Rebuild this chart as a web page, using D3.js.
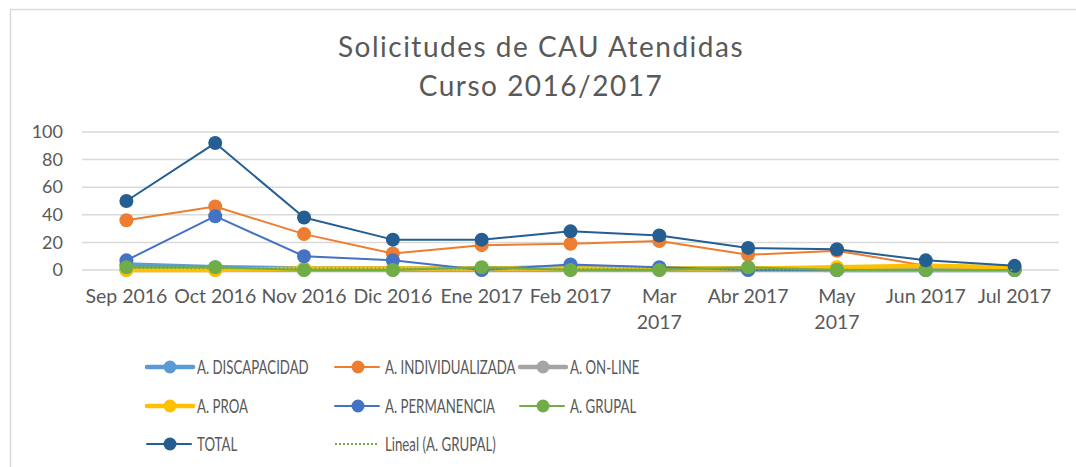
<!DOCTYPE html>
<html><head><meta charset="utf-8">
<script src="https://cdn.jsdelivr.net/npm/d3@7"></script>
<style>html,body{margin:0;padding:0;background:#fff;}svg{display:block;font-family:Lato,"Open Sans",sans-serif;}</style>
</head><body>
<svg id="c" width="1076" height="467"></svg>
<script>
const categories = ["Sep 2016","Oct 2016","Nov 2016","Dic 2016","Ene 2017","Feb 2017","Mar 2017","Abr 2017","May 2017","Jun 2017","Jul 2017"];
const yTicks = [0,20,40,60,80,100];
const titleLines = ["Solicitudes de CAU Atendidas","Curso 2016/2017"];
const discapacidad    = [4,2,1,1,1,2,1,1,0,0,0];
const individualizada = [36,46,26,12,18,19,21,11,14,3,1];
const online          = [0,0,0,0,0,0,0,0,0,0,0];
const proa            = [0,0,1,1,1,1,1,1,2,3,2];
const permanencia     = [7,39,10,7,0,4,2,0,0,0,0];
const grupal          = [2,2,0,0,2,0,0,2,0,0,0];
const total           = [50,92,38,22,22,28,25,16,15,7,3];
const seriesNames = ["A. DISCAPACIDAD","A. INDIVIDUALIZADA","A. ON-LINE","A. PROA","A. PERMANENCIA","A. GRUPAL","TOTAL"];
const trendName = "Lineal (A. GRUPAL)";

const seriesData = [discapacidad, individualizada, online, proa, permanencia, grupal, total];
const colors = ["#5B9BD5","#ED7D31","#A5A5A5","#FFC000","#4472C4","#70AD47","#255E91"];
const widths = [4.5,2,4.5,4.5,2,2,2];

const svg = d3.select("#c");
const txt = "#595959";

svg.append("rect").attr("x",10.5).attr("y",9.5).attr("width",1200).attr("height",600)
  .attr("fill","none").attr("stroke","#D9D9D9").attr("stroke-width",1.5);

svg.selectAll("text.title").data(titleLines).join("text")
  .attr("x",541).attr("y",(d,i)=>57+i*39).attr("text-anchor","middle")
  .attr("font-size",28).attr("letter-spacing","1.5px").attr("fill",txt).text(d=>d);

const x = d3.scaleBand().domain(categories).range([82,1059]);
const y = d3.scaleLinear().domain([0,100]).range([270,132]);

// gridlines
svg.append("g").selectAll("line").data(yTicks).join("line")
  .attr("x1",82).attr("x2",1059).attr("y1",d=>y(d)).attr("y2",d=>y(d))
  .attr("stroke","#D9D9D9").attr("stroke-width",1.5);

// y axis
const ya = svg.append("g").attr("transform","translate(63,0)")
  .call(d3.axisLeft(y).tickValues(yTicks).tickSize(0).tickPadding(0));
ya.select(".domain").remove();
ya.selectAll("text").attr("font-size",18).attr("fill",txt).attr("font-family","Lato,sans-serif");

// x axis
const xa = svg.append("g").attr("transform","translate(0,270)")
  .call(d3.axisBottom(x).tickSize(0).tickPadding(0));
xa.select(".domain").remove();
xa.selectAll("text").attr("font-size",19.5).attr("fill",txt).attr("font-family","Lato,sans-serif")
  .each(function(d){
    const t = d3.select(this);
    t.text(null).attr("y",0).attr("dy",null);
    const wrap = (d.startsWith("Mar")||d.startsWith("May"));
    const parts = wrap ? d.split(" ") : [d];
    parts.forEach((p,i)=>t.append("tspan").attr("x",0).attr("y",33+i*26).text(p));
  });

const cx = d => x(d) + x.bandwidth()/2;
const line = d3.line().x((v,i)=>cx(categories[i])).y(v=>y(v));

const plot = svg.append("g");
seriesData.forEach((s,k)=>{
  const g = plot.append("g");
  g.append("path").attr("d",line(s)).attr("fill","none").attr("stroke",colors[k])
    .attr("stroke-width",widths[k]).attr("stroke-linejoin","round");
  g.selectAll("circle").data(s).join("circle")
    .attr("cx",(v,i)=>cx(categories[i])).attr("cy",v=>y(v)).attr("r",7)
    .attr("fill",colors[k]);
});

// linear trend of A. GRUPAL
const n = grupal.length;
const xs = d3.range(1,n+1);
const mx = d3.mean(xs), my = d3.mean(grupal);
const b = d3.sum(xs,(xi,i)=>(xi-mx)*(grupal[i]-my))/d3.sum(xs,xi=>(xi-mx)*(xi-mx));
const a = my - b*mx;
plot.append("line")
  .attr("x1",cx(categories[0])).attr("x2",cx(categories[n-1]))
  .attr("y1",y(a+b*1)).attr("y2",y(a+b*n))
  .attr("stroke","#70AD47").attr("stroke-width",2).attr("stroke-dasharray","2,2");

// legend
const legCols = [147,335,520];
const legRows = [367,406,444];
const legItems = seriesNames.map((nm,k)=>({name:nm,color:colors[k],w:widths[k],marker:true}));
legItems.push({name:trendName,color:"#70AD47",w:2,marker:false,dash:true});
legItems.forEach((it,i)=>{
  const col = i%3, row = Math.floor(i/3);
  const lx = legCols[col], ly = legRows[row];
  const g = svg.append("g");
  const thick = it.w > 3;
  g.append("line").attr("x1",lx).attr("x2",lx+(thick?46:44)).attr("y1",ly).attr("y2",ly)
    .attr("stroke",it.color).attr("stroke-width",it.w).attr("stroke-linecap",it.dash?"butt":"round")
    .attr("stroke-dasharray",it.dash?"2,2":null);
  if(it.marker) g.append("circle").attr("cx",lx+23).attr("cy",ly).attr("r",6.5).attr("fill",it.color);
  g.append("text").attr("transform",`translate(${lx+50},${ly}) scale(0.68,1)`)
    .attr("dy","0.35em").attr("font-size",19.5)
    .attr("fill",txt).text(it.name);
});
</script>
</body></html>
